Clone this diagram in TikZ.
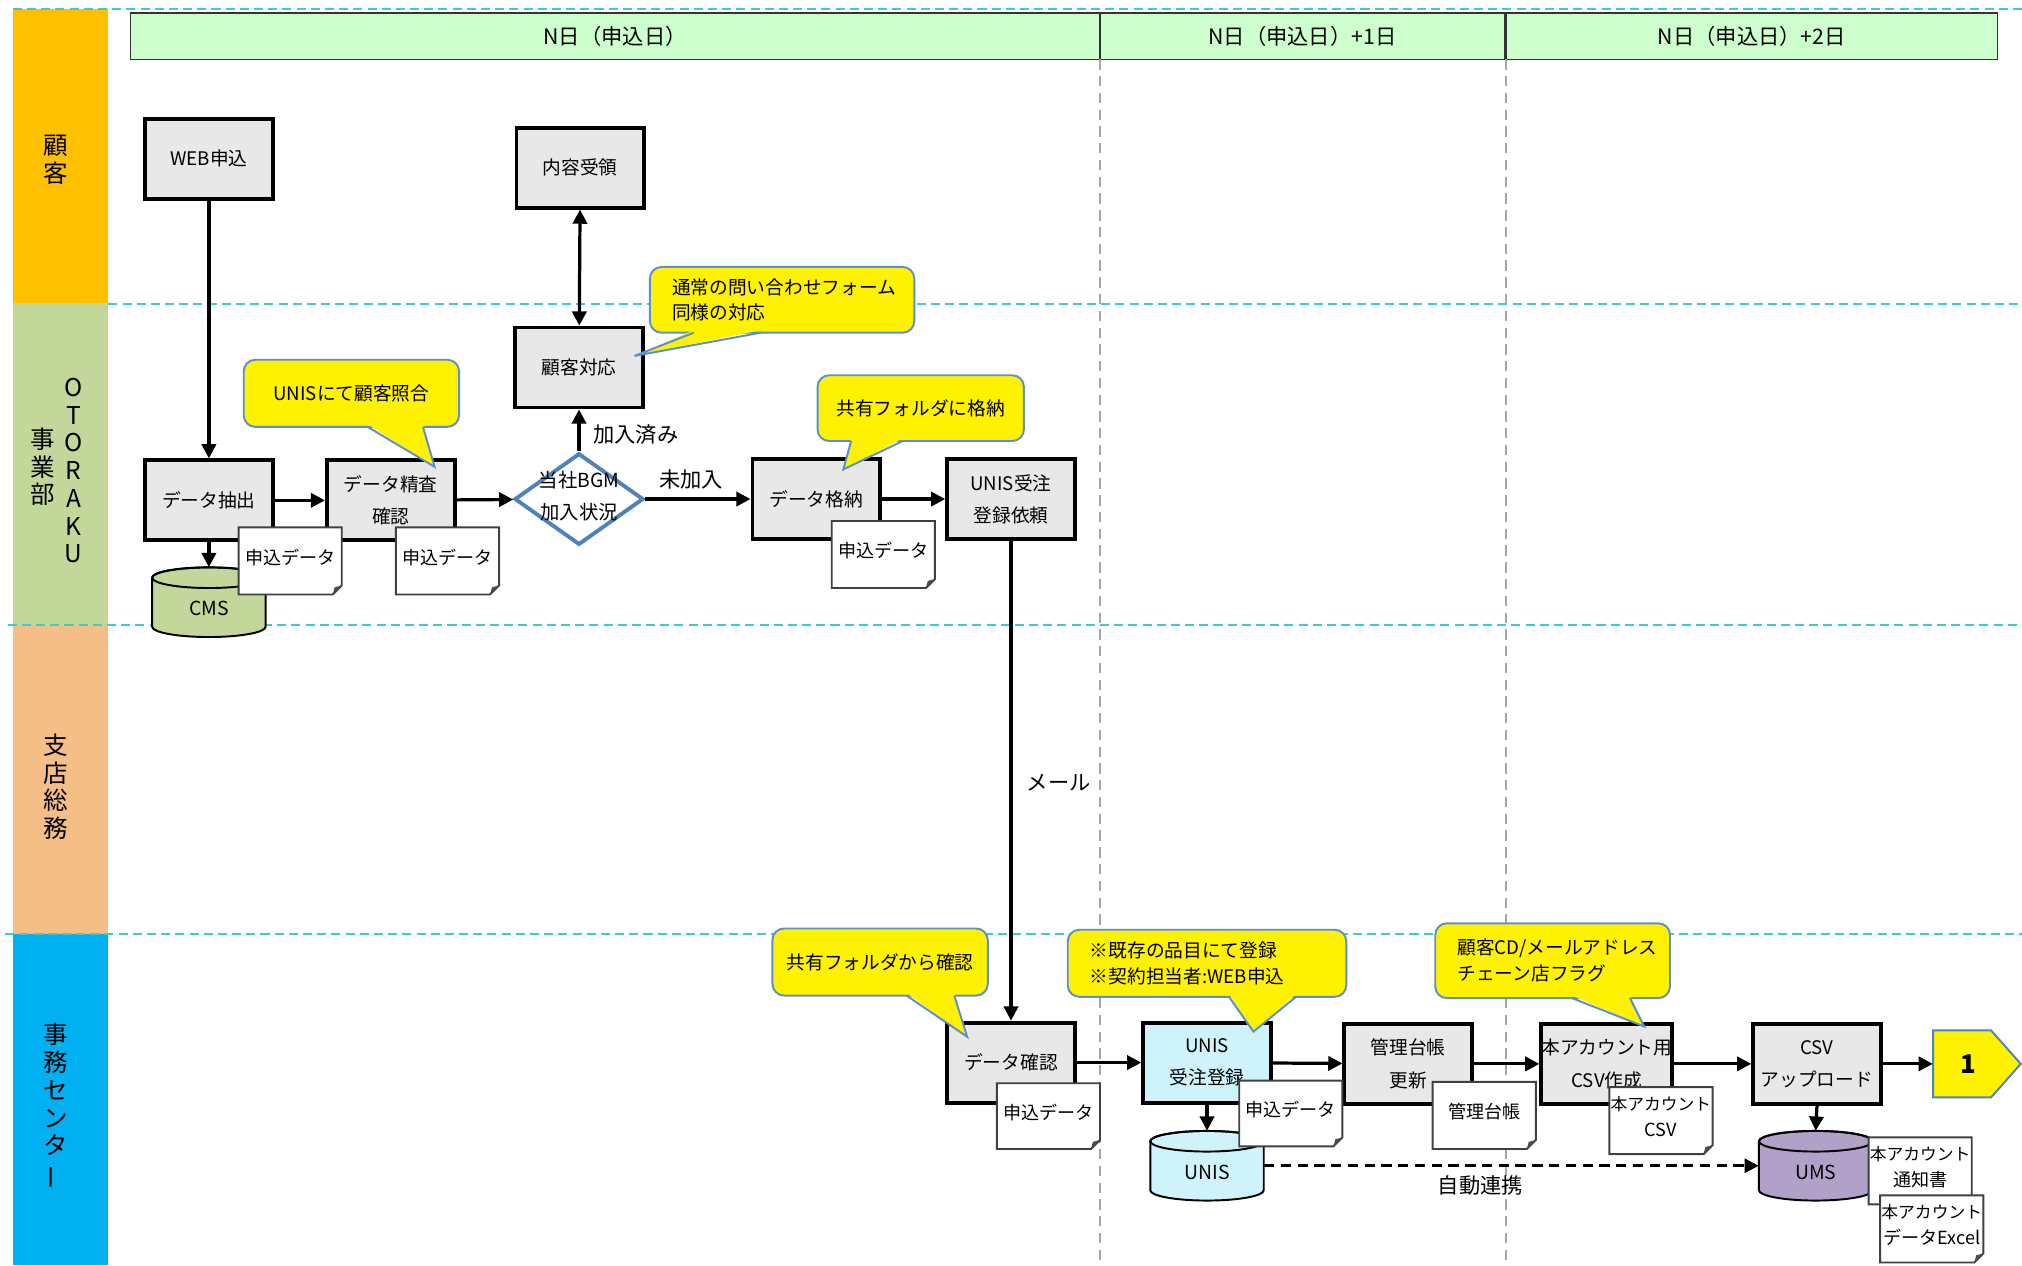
\documentclass[tikz,border=0pt]{standalone}
\usepackage{fontspec}
\usepackage{graphicx}
\setmainfont{Noto Sans CJK JP}
\usetikzlibrary{arrows.meta,shapes.geometric}
\definecolor{laneA}{HTML}{FFC000}
\definecolor{laneB}{HTML}{C4D79B}
\definecolor{laneC}{HTML}{F5BE86}
\definecolor{laneD}{HTML}{00B0F0}
\definecolor{hdrfill}{HTML}{CCFFCC}
\definecolor{boxgray}{HTML}{E8E8E8}
\definecolor{unisfill}{HTML}{CFF3FB}
\definecolor{umsfill}{HTML}{B1A0C7}
\definecolor{callblue}{HTML}{5B8FD0}
\definecolor{diablue}{HTML}{4F81BD}
\definecolor{lanedash}{HTML}{3CCCCC}
\definecolor{daydash}{HTML}{A6A6A6}
% document with folded corner: x1 y1 x2 y2 name text
\newcommand\mydoc[6]{%
  \draw[docline] (#1,#2) -- (#3,#2) -- (#3,#4-7) -- (#3-7,#4) -- (#1,#4) -- cycle;
  \fill[black!70] (#3,#4-7) -- (#3-7,#4) -- (#3-5.5,#4-5.5) -- cycle;
  \node[doctext] (#5) at ({(#1+#3)/2},{(#2+#4)/2-3}) {#6};
}
% cylinder: x1 y1 x2 y2 fill name text
\newcommand\mycyl[7]{%
  \draw[cylline,fill=#5] (#1,#2+8) -- (#1,#4-8)
    arc[start angle=180,end angle=0,x radius={(#3-#1)/2},y radius=8]
    -- (#3,#2+8)
    arc[start angle=0,end angle=-180,x radius={(#3-#1)/2},y radius=8] -- cycle;
  \draw[cylline] ({(#1+#3)/2},#2+8) ellipse[x radius={(#3-#1)/2},y radius=8];
  \node[inner sep=0pt,minimum width={#3-#1},minimum height={#4-#2}] (#6) at ({(#1+#3)/2},{(#2+#4)/2}) {};
  \node[cyltext] (#6t) at ({(#1+#3)/2},{(#2+#4)/2+5}) {#7};
}
% callout shape: x1 y1 x2 y2 basex1 basex2 tip
\newcommand\mycallshape[7]{%
  \draw[callbox] (#1,#2) rectangle (#3,#4);
  \fill[yellow] (#5,#4-2) -- (#7) -- (#6,#4-2) -- cycle;
  \draw[callline] (#5,#4) -- (#7) -- (#6,#4);
}
% centred callout
\newcommand\mycallout[9]{%
  \mycallshape{#1}{#2}{#3}{#4}{#5}{#6}{#7}%
  \node[calltext] (#8) at ({(#1+#3)/2},{(#2+#4)/2}) {#9};
}
% left-aligned callout
\newcommand\mycalloutl[9]{%
  \mycallshape{#1}{#2}{#3}{#4}{#5}{#6}{#7}%
  \node[calltext,anchor=west] (#8) at ({#1+17},{(#2+#4)/2}) {#9};
}
\begin{document}
\begin{tikzpicture}[x=1pt,y=-1pt,
  proc/.style={draw=black,line width=3pt,fill=boxgray,minimum width=99pt,minimum height=62pt,inner sep=0pt,align=center,font=\fontsize{14.5}{25}\selectfont},
  flow/.style={-{Triangle[length=11pt,width=11pt]},line width=2.5pt},
  docline/.style={draw=black!75,line width=1.5pt,fill=white},
  doctext/.style={inner sep=0pt,align=center,font=\fontsize{14}{20}\selectfont},
  cylline/.style={draw=black,line width=1.5pt},
  cyltext/.style={inner sep=0pt,font=\fontsize{15}{18}\selectfont},
  callbox/.style={draw=callblue,line width=1.5pt,fill=yellow,rounded corners=9pt},
  callline/.style={draw=callblue,line width=1.5pt},
  calltext/.style={inner sep=0pt,align=left,font=\fontsize{14.5}{20}\selectfont},
  lanetext/.style={inner sep=0pt,align=center,font=\fontsize{19}{21.5}\selectfont},
  hdr/.style={draw=black!80,line width=1pt,fill=hdrfill,inner sep=0pt,font=\fontsize{16.5}{18}\selectfont},
  lbl/.style={inner sep=0pt,font=\fontsize{16.5}{18}\selectfont},
  lanedashline/.style={draw=lanedash,line width=1.5pt,dash pattern=on 7pt off 4pt},
  daydashline/.style={draw=daydash,line width=1.2pt,dash pattern=on 8pt off 5pt},
]
\useasboundingbox (0,0) rectangle (1568,981);
\fill[white] (0,0) rectangle (1568,981);
% lanes
\fill[laneA] (10,7) rectangle (84,235);
\fill[laneB] (10,235) rectangle (84,485);
\fill[laneC] (10,485) rectangle (84,724);
\fill[laneD] (10,724) rectangle (84,981);
\draw[lanedashline] (10,7) -- (1568,7);
\draw[lanedashline] (84,236) -- (1568,236);
\draw[lanedashline] (6,485) -- (1568,485);
\draw[lanedashline] (4,724) -- (1568,724);
\node[lanetext] (lnA) at (43,124) {顧\\客};
\node[lanetext] (lnB1) at (57,365) {O\\T\\O\\R\\A\\K\\U};
\node[lanetext] (lnB2) at (33,362) {事\\業\\部};
\node[lanetext] (lnC) at (43,610) {支\\店\\総\\務};
\node[lanetext] (lnD) at (43,858) {事\\務\\セ\\ン\\タ\\\rotatebox[origin=c]{90}{ー}};
% headers
\node[hdr,minimum width=752pt,minimum height=36pt] (h1) at (477,28) {N日（申込日）};
\node[hdr,minimum width=314pt,minimum height=36pt] (h2) at (1010,28) {N日（申込日）+1日};
\node[hdr,minimum width=381pt,minimum height=36pt] (h3) at (1358.5,28) {N日（申込日）+2日};
\draw[daydashline] (853,46) -- (853,981);
\draw[daydashline] (1168,46) -- (1168,981);
% processes
\node[proc] (web) at (162,123) {WEB申込};
\node[proc] (naiyo) at (450,130) {内容受領};
\node[proc] (taiou) at (449,285) {顧客対応};
\node[proc] (chushutsu) at (162,388) {データ抽出};
\node[proc] (seisa) at (303,388) {データ精査\\確認};
\node[diamond,draw=diablue,line width=3pt,fill=white,minimum width=100pt,minimum height=71pt,inner sep=0pt] (bgm) at (449,387) {};
\node[lbl,align=center,font=\fontsize{15}{25}\selectfont] (bgmt) at (449,385) {当社BGM\\加入状況};
\node[proc] (kakuno) at (633,387) {データ格納};
\node[proc] (irai) at (784,387) {UNIS受注\\登録依頼};
\node[proc] (kakunin) at (784,824) {データ確認};
\node[proc,fill=unisfill] (unis) at (936,824) {UNIS\\受注登録};
\node[proc] (daicho) at (1092,825) {管理台帳\\更新};
\node[proc] (csvsaku) at (1246,825) {本アカウント用\\CSV作成};
\node[proc] (upload) at (1409,825) {CSV\\アップロード};
\draw[draw=diablue,line width=1.5pt,fill=yellow] (1499,799) -- (1544,799) -- (1567,825) -- (1544,851) -- (1499,851) -- cycle;
\node[inner sep=0pt,minimum width=54pt,minimum height=52pt,font=\fontsize{20}{24}\selectfont\bfseries] (pent) at (1526,825) {1};
% cylinders
\mycyl{118}{440}{206}{494}{laneB}{cms}{CMS}
\mycyl{892}{877}{980}{931}{unisfill}{unisdb}{UNIS}
\mycyl{1364}{877}{1452}{931}{umsfill}{ums}{UMS}
% connectors
\draw[flow] (web) -- (chushutsu);
\draw[{Triangle[length=11pt,width=11pt]}-{Triangle[length=11pt,width=11pt]},line width=2.5pt] (naiyo) -- (taiou);
\draw[flow] (bgm.north) -- (taiou.south);
\draw[flow] (chushutsu) -- (seisa);
\draw[flow] (chushutsu.south) -- (cms.north);
\draw[flow] (seisa) -- (bgm);
\draw[flow] (bgm) -- (kakuno);
\draw[flow] (kakuno) -- (irai);
\draw[flow] (irai) -- (kakunin);
\draw[flow] (kakunin) -- (unis);
\draw[flow] (unis.south) -- (unisdb.north);
\draw[flow] (unis) -- (daicho);
\draw[flow] (daicho) -- (csvsaku);
\draw[flow] (csvsaku) -- (upload);
\draw[flow] (upload) -- (pent);
\draw[flow] (upload.south) -- (ums.north);
\draw[flow,dash pattern=on 8pt off 5pt,line width=2pt] (unisdb.east) -- (ums.west);
% labels
\node[lbl] (l1) at (493,337) {加入済み};
\node[lbl] (l2) at (536,372) {未加入};
\node[lbl] (l3) at (821,607) {メール};
\node[lbl] (l4) at (1148,919) {自動連携};
% documents
\mydoc{185}{409}{265}{461}{d1}{申込データ}
\mydoc{307}{409}{387}{461}{d2}{申込データ}
\mydoc{645}{404}{725}{456}{d3}{申込データ}
\mydoc{773}{840}{853}{891}{d4}{申込データ}
\mydoc{961}{838}{1041}{889}{d5}{申込データ}
\mydoc{1111}{839}{1191}{891}{d6}{管理台帳}
\mydoc{1248}{843}{1328}{895}{d7}{\fontsize{13}{20}\selectfont 本アカウント\\CSV}
\mydoc{1449}{882}{1529}{934}{d8}{\fontsize{13}{19}\selectfont 本アカウント\\通知書}
\mydoc{1458}{927}{1538}{979}{d9}{\fontsize{13}{19}\selectfont 本アカウント\\データExcel}
% callouts
\mycallout{189}{279}{356}{331}{285}{328}{337,362}{c1}{UNISにて顧客照合}
\mycalloutl{504}{207}{709}{258}{538}{590}{492,276}{c2}{通常の問い合わせフォーム\\同様の対応}
\mycallout{634}{291}{794}{342}{660}{700}{654,364}{c3}{共有フォルダに格納}
\mycallout{599}{720}{766}{772}{703}{740}{750,804}{c4}{共有フォルダから確認}
\mycalloutl{828}{721}{1044}{773}{953}{1005}{972,800}{c5}{※既存の品目にて登録\\※契約担当者:WEB申込}
\mycalloutl{1113}{716}{1295}{774}{1219}{1264}{1275,796}{c6}{顧客CD/メールアドレス\\チェーン店フラグ}
\end{tikzpicture}
\end{document}
